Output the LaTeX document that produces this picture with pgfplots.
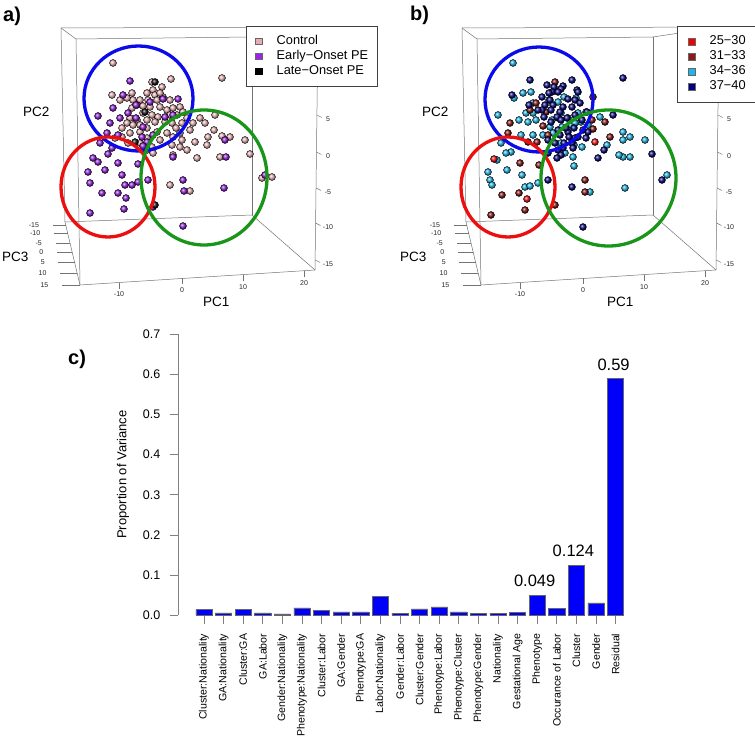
\documentclass[border=0pt]{standalone}
\usepackage{fontspec}
\setmainfont{Liberation Sans}
\usepackage{pgfplots}
\pgfplotsset{compat=1.18}

\definecolor{pinkc}{RGB}{238,182,184}
\definecolor{purpc}{RGB}{150,38,225}
\definecolor{blackc}{RGB}{25,25,25}
\definecolor{redc}{RGB}{240,20,20}
\definecolor{dredc}{RGB}{135,25,25}
\definecolor{cyanc}{RGB}{35,185,235}
\definecolor{navyc}{RGB}{10,10,130}
\definecolor{cblue}{RGB}{10,10,235}
\definecolor{cred}{RGB}{235,15,15}
\definecolor{cgreen}{RGB}{25,150,25}
\definecolor{barblue}{RGB}{0,0,250}

\pgfdeclareplotmark{sphpink}{\shade[ball color=pinkc] (0pt,0pt) circle (\pgfplotmarksize);}
\pgfdeclareplotmark{sphpurp}{\shade[ball color=purpc] (0pt,0pt) circle (\pgfplotmarksize);}
\pgfdeclareplotmark{sphblack}{\shade[ball color=blackc] (0pt,0pt) circle (\pgfplotmarksize);}
\pgfdeclareplotmark{sphred}{\shade[ball color=redc] (0pt,0pt) circle (\pgfplotmarksize);}
\pgfdeclareplotmark{sphdred}{\shade[ball color=dredc] (0pt,0pt) circle (\pgfplotmarksize);}
\pgfdeclareplotmark{sphcyan}{\shade[ball color=cyanc] (0pt,0pt) circle (\pgfplotmarksize);}
\pgfdeclareplotmark{sphnavy}{\shade[ball color=navyc] (0pt,0pt) circle (\pgfplotmarksize);}

\tikzset{
  boxline/.style={draw=black!55, line width=0.5pt},
  tick3d/.style={font=\fontsize{7}{8}\selectfont, inner sep=0pt, text=black!85},
}

% 3D box drawn in pixel coordinates of one panel (y downwards)
\newcommand{\threedbox}{%
  \draw[boxline] (61,28) -- (318,27);
  \draw[boxline] (61,28) -- (76,39);
  \draw[boxline] (76,39) -- (252,37);
  \draw[boxline] (252,37) -- (318,27);
  \draw[boxline] (76,39) -- (80,285);
  \draw[boxline] (61,28) -- (65,222);
  \draw[boxline] (65,222) -- (252,215);
  \draw[boxline] (65,222) -- (80,285);
  \draw[boxline] (80,285) -- (315,270);
  \draw[boxline] (252,37) -- (252,215);
  \draw[boxline] (252,215) -- (315,270);
  \draw[boxline] (318,27) -- (315,270);
  \foreach \lx/\l in {119/-10,182/0,243/10,304/20}{%
    \pgfmathsetmacro\ly{285-15*(\lx-80)/235}
    \draw[boxline] (\lx,\ly) -- (\lx,\ly+6);
    \node[tick3d] at (\lx,\ly+12) {\l};}
  \foreach \ly/\l in {119/5,156/0,192/-5,227/-10,264/-15}{%
    \pgfmathsetmacro\xx{318-3*(\ly-27)/243}
    \draw[boxline] (\xx,\ly-4) -- (\xx+5,\ly-1.5);
    \node[tick3d] at (328,\ly) {\l};}
  \foreach \ly/\l in {225/-15,233/-10,243/-5,252/0,262/5,273/10,285/15}{%
    \pgfmathsetmacro\xx{65+15*(\ly-222)/63}
    \pgfmathsetmacro\tl{13+5*(\ly-225)/60}
    \draw[boxline] (\xx,\ly) -- (\xx-\tl,\ly);
    \node[tick3d, anchor=east] at (\xx-\tl-13.5,\ly) {\l};}
}

\pgfplotsset{
  scatterpanel/.style={
    anchor=north west, scale only axis, width=380pt, height=310pt,
    xmin=0, xmax=380, ymin=0, ymax=310, y dir=reverse, hide axis, clip=false,
    legend style={draw=black!75, line width=0.5pt,
      font=\fontsize{12.8}{14}\selectfont, inner xsep=9pt, inner ysep=9pt,
      row sep=3pt, nodes={inner sep=0pt, text height=9pt, text depth=3pt},
      legend cell align=left, anchor=north west},
    legend image code/.code={\filldraw[##1, line width=0.4pt] (0pt,-3.3pt) rectangle (6.6pt,3.3pt); \path (21pt,0pt);},
  },
  balls/.style={only marks, mark size=3.5pt, forget plot},
}

\begin{document}
\begin{tikzpicture}[x=1pt,y=1pt]
\useasboundingbox (0,0) rectangle (755,745);

% boxes behind the points
\begin{scope}[shift={(0,745)}, yscale=-1]
  \threedbox
\end{scope}
\begin{scope}[shift={(401,745)}, yscale=-1]
  \threedbox
\end{scope}

% ---------------- panel a ----------------
\begin{axis}[scatterpanel, at={(0pt,745pt)},
  legend style={at={(axis cs:246,26)}}]
\addplot[balls, mark=sphpink] table[row sep=\\] {x y\\
113 63\\ 222 78\\ 171 79\\ 152 82\\ 162 87\\ 153 90\\ 147 93\\ 155 95\\ 163 97\\ 132 93\\
133 100\\ 112 95\\ 120 100\\ 127 98\\ 140 100\\ 148 100\\ 157 100\\ 170 100\\ 132 108\\ 137 105\\
150 107\\ 160 107\\ 167 110\\ 173 108\\ 180 107\\ 143 113\\ 152 115\\ 158 117\\ 170 115\\ 177 115\\
183 112\\ 147 120\\ 155 122\\ 165 122\\ 172 123\\ 130 118\\ 137 120\\ 127 123\\ 133 125\\ 140 125\\
182 123\\ 187 118\\ 200 118\\ 205 123\\ 215 115\\ 190 130\\ 180 133\\ 173 137\\ 167 133\\ 157 132\\
147 128\\ 140 132\\ 130 133\\ 122 137\\ 115 138\\ 122 128\\ 128 143\\ 140 143\\ 147 138\\ 160 140\\
152 147\\ 172 145\\ 180 147\\ 187 150\\ 182 140\\ 195 142\\ 208 137\\ 222 136\\ 230 137\\ 245 140\\
207 145\\ 250 154\\ 220 157\\ 197 158\\ 173 155\\ 153 153\\ 147 150\\ 262 178\\ 272 177\\ 170 185\\
190 191\\ 160 93\\ 143 106\\ 176 128\\ 193 123\\ 214 130\\
};
\addplot[balls, mark=sphpurp] table[row sep=\\] {x y\\
130 81\\ 123 95\\ 136 105\\ 150 102\\ 163 99\\ 178 99\\ 113 108\\ 98 116\\ 120 118\\ 128 113\\
136 118\\ 143 127\\ 165 117\\ 173 115\\ 110 123\\ 107 133\\ 118 135\\ 142 137\\ 153 135\\ 100 143\\
147 142\\ 112 148\\ 143 146\\ 108 154\\ 93 158\\ 98 162\\ 118 163\\ 138 164\\ 173 157\\ 88 172\\
90 183\\ 105 170\\ 122 175\\ 148 180\\ 125 185\\ 132 185\\ 138 182\\ 183 180\\ 225 140\\ 226 157\\
265 175\\ 224 188\\ 184 191\\ 102 193\\ 118 193\\ 126 198\\ 124 209\\ 90 213\\ 183 226\\ 153 207\\
};
\addplot[balls, mark=sphblack] table[row sep=\\] {x y\\
155 82\\ 145 112\\ 135 142\\ 155 205\\
};
\addlegendimage{fill={rgb,255:red,230;green,172;blue,176}, draw=black!60}
\addlegendentry{Control}
\addlegendimage{fill={rgb,255:red,160;green,32;blue,240}, draw=black!60}
\addlegendentry{Early−Onset PE}
\addlegendimage{fill=black, draw=black}
\addlegendentry{Late−Onset PE}
\end{axis}

% ---------------- panel b ----------------
\begin{axis}[scatterpanel, at={(401pt,745pt)},
  legend style={at={(axis cs:276,26)}, inner xsep=11pt, inner ysep=9.5pt}]
\addplot[balls, mark=sphcyan] table[row sep=\\] {x y\\
112 63\\ 122 93\\ 130 92\\ 113 98\\ 132 103\\ 97 115\\ 125 113\\ 132 113\\ 118 120\\ 127 122\\
135 120\\ 148 100\\ 157 102\\ 163 97\\ 175 98\\ 177 113\\ 160 113\\ 157 118\\ 167 118\\ 185 112\\
170 125\\ 180 122\\ 149 127\\ 161 127\\ 174 123\\ 187 125\\ 199 117\\ 120 135\\ 132 135\\ 142 135\\
152 133\\ 100 143\\ 110 152\\ 105 153\\ 96 160\\ 106 170\\ 87 172\\ 89 180\\ 91 185\\ 121 175\\
124 187\\ 129 186\\ 137 183\\ 172 157\\ 173 166\\ 181 147\\ 164 153\\ 151 120\\ 160 143\\ 173 145\\
206 145\\ 222 132\\ 229 137\\ 222 140\\ 244 140\\ 222 157\\ 229 157\\ 266 175\\ 224 188\\ 189 192\\
218 155\\
};
\addplot[balls, mark=sphdred] table[row sep=\\] {x y\\
154 82\\ 135 103\\ 145 112\\ 129 110\\ 109 123\\ 107 133\\ 142 126\\ 136 142\\ 127 142\\ 191 120\\
204 122\\ 209 137\\ 192 97\\ 192 129\\ 119 163\\ 138 165\\ 101 195\\ 118 193\\ 124 210\\ 90 215\\
154 205\\ 184 180\\ 184 192\\ 147 135\\
};
\addplot[balls, mark=sphred] table[row sep=\\] {x y\\
93 159\\ 194 142\\ 126 199\\
};
\addplot[balls, mark=sphnavy] table[row sep=\\] {x y\\
129 80\\ 146 85\\ 153 87\\ 162 86\\ 171 80\\ 176 90\\ 160 89\\ 151 92\\ 111 95\\ 141 97\\
148 93\\ 157 92\\ 149 100\\ 167 99\\ 174 100\\ 177 92\\ 144 105\\ 152 105\\ 162 107\\ 171 107\\
179 103\\ 186 112\\ 159 112\\ 141 110\\ 156 117\\ 166 118\\ 174 115\\ 181 120\\ 150 110\\ 128 105\\
137 110\\ 143 117\\ 150 122\\ 160 120\\ 187 132\\ 167 132\\ 159 135\\ 147 140\\ 154 143\\ 171 143\\
174 138\\ 162 148\\ 173 128\\ 165 128\\ 157 130\\ 182 130\\ 168 137\\ 177 137\\ 185 138\\ 163 143\\
172 148\\ 157 150\\ 147 153\\ 160 155\\ 156 158\\ 147 180\\ 171 187\\ 197 158\\ 212 115\\ 222 78\\
251 154\\ 261 180\\ 182 227\\ 203 150\\
};
\addlegendimage{fill={rgb,255:red,240;green,0;blue,0}, draw=black!60}
\addlegendentry{25−30}
\addlegendimage{fill={rgb,255:red,139;green,26;blue,26}, draw=black!60}
\addlegendentry{31−33}
\addlegendimage{fill={rgb,255:red,30;green,180;blue,235}, draw=black!60}
\addlegendentry{34−36}
\addlegendimage{fill={rgb,255:red,0;green,0;blue,128}, draw=black!60}
\addlegendentry{37−40}
\end{axis}

% circles on top of the points
\begin{scope}[shift={(0,745)}, yscale=-1, line width=3.3pt]
  \draw[cblue] (138.5,98.5) ellipse [x radius=54.5, y radius=52.5];
  \draw[cred] (108,187) ellipse [x radius=47, y radius=50];
  \draw[cgreen] (204,177.5) ellipse [x radius=63, y radius=67.5];
\end{scope}
\begin{scope}[shift={(401,745)}, yscale=-1, line width=3.3pt]
  \draw[cblue] (138,99.5) ellipse [x radius=54, y radius=52.5];
  \draw[cred] (107,187) ellipse [x radius=47, y radius=50];
  \draw[cgreen] (207.5,178) ellipse [x radius=67.5, y radius=68];
\end{scope}

% ---------------- panel c ----------------
\begin{axis}[at={(178pt,130pt)}, anchor=south west, scale only axis,
  width=451.3pt, height=280.7pt,
  xmin=-0.3265, xmax=22.7, ymin=0, ymax=0.7, clip=false,
  axis y line*=left, axis x line*=bottom,
  x axis line style={draw=none},
  y axis line style={draw=black!50, line width=0.6pt, -},
  tick align=outside, major tick length=8.5pt,
  tick style={draw=black!50, line width=0.6pt},
  ytick={0,0.1,0.2,0.3,0.4,0.5,0.6,0.7},
  yticklabels={0.0,0.1,0.2,0.3,0.4,0.5,0.6,0.7},
  yticklabel style={font=\fontsize{12.5}{14}\selectfont, inner sep=0pt},
  yticklabel shift=9pt,
  xtick={1,...,22},
  xticklabels={Cluster:Nationality,GA:Nationality,Cluster:GA,GA:Labor,Gender:Nationality,Phenotype:Nationality,Cluster:Labor,GA:Gender,Phenotype:GA,Labor:Nationality,Gender:Labor,Cluster:Gender,Phenotype:Labor,Phenotype:Cluster,Phenotype:Gender,Nationality,Gestational Age,Phenotype,Occurance of Labor,Cluster,Gender,Residual},
  xticklabel style={rotate=90, anchor=east, font=\fontsize{10.6}{12}\selectfont, inner sep=0pt},
  xticklabel shift=10pt,
  ybar, bar width=16.3pt]
\addplot[fill=barblue, draw=black!60, line width=0.5pt] coordinates {
(1,0.014) (2,0.005) (3,0.014) (4,0.005) (5,0.0025) (6,0.018) (7,0.012) (8,0.008)
(9,0.0075) (10,0.0456) (11,0.004) (12,0.015) (13,0.02) (14,0.008) (15,0.004) (16,0.004)
(17,0.0066) (18,0.049) (19,0.0166) (20,0.124) (21,0.030) (22,0.59)};
\node[anchor=south, inner sep=0pt, font=\fontsize{16.5}{18}\selectfont, yshift=8pt, xshift=-2.5pt] at (axis cs:18,0.049) {0.049};
\node[anchor=south, inner sep=0pt, font=\fontsize{16.5}{18}\selectfont, yshift=8pt, xshift=-3pt] at (axis cs:20,0.124) {0.124};
\node[anchor=south, inner sep=0pt, font=\fontsize{16.5}{18}\selectfont, yshift=8pt, xshift=-2pt] at (axis cs:22,0.59) {0.59};
\end{axis}

% ---------------- labels ----------------
\tikzset{pclab/.style={anchor=base west, inner sep=0pt, font=\fontsize{13.5}{15}\selectfont}}
\node[anchor=base west, inner sep=0pt, font=\bfseries\fontsize{20}{22}\selectfont] at (3,723.5) {a)};
\node[anchor=base west, inner sep=0pt, font=\bfseries\fontsize{20}{22}\selectfont] at (410,724) {b)};
\node[anchor=base west, inner sep=0pt, font=\bfseries\fontsize{20}{22}\selectfont] at (68,380) {c)};
\node[pclab] at (23,628) {PC2};
\node[pclab] at (2,483) {PC3};
\node[pclab] at (203,438) {PC1};
\node[pclab] at (422,628) {PC2};
\node[pclab] at (400,483) {PC3};
\node[pclab] at (607,438) {PC1};
\node[rotate=90, inner sep=0pt, font=\fontsize{13}{15}\selectfont] at (123,270.5) {Proportion of Variance};
\end{tikzpicture}
\end{document}
